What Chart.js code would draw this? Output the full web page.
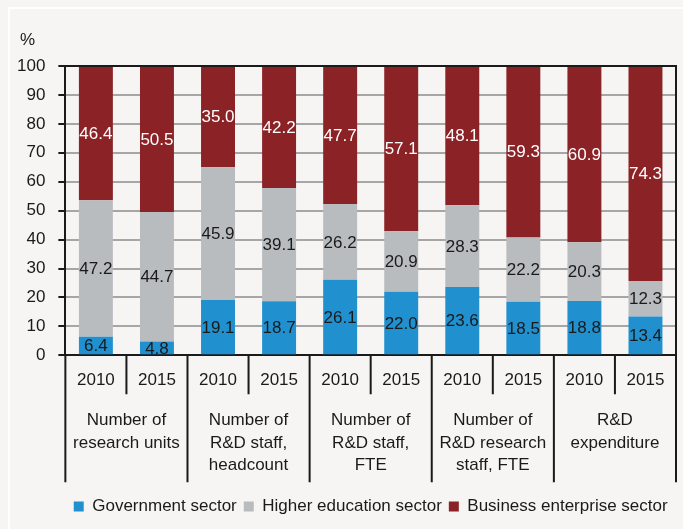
<!DOCTYPE html>
<html>
<head>
<meta charset="utf-8">
<script src="https://cdn.jsdelivr.net/npm/chart.js@4"></script>
<style>
  html, body { margin: 0; padding: 0; background: #f6f5f3; }
  #frame { position: absolute; left: 8px; top: 7px; width: 700px; height: 540px;
           border-top: 2px solid #ffffff; border-left: 2px solid #ffffff; }
  #wrap { position: absolute; left: 0; top: 0; width: 683px; height: 529px; }
</style>
</head>
<body>
<div id="frame"></div>
<div id="wrap"><canvas id="myChart" width="683" height="529"></canvas></div>
<script>
// data
const years = ['2010', '2015', '2010', '2015', '2010', '2015', '2010', '2015', '2010', '2015'];
const groups = [
	['Number of', 'research units'],
	['Number of', 'R&D staff,', 'headcount'],
	['Number of', 'R&D staff,', 'FTE'],
	['Number of', 'R&D research', 'staff, FTE'],
	['R&D', 'expenditure'],
];
const government = [6.4, 4.8, 19.1, 18.7, 26.1, 22.0, 23.6, 18.5, 18.8, 13.4];
const higherEducation = [47.2, 44.7, 45.9, 39.1, 26.2, 20.9, 28.3, 22.2, 20.3, 12.3];
const business = [46.4, 50.5, 35.0, 42.2, 47.7, 57.1, 48.1, 59.3, 60.9, 74.3];

const BLUE = '#2190cf';
const GREY = '#b9bcbf';
const RED = '#8b2226';
const INK = '#1a1a1a';

Chart.defaults.font.family = "'Liberation Sans', Arial, sans-serif";
Chart.defaults.font.size = 17;
Chart.defaults.color = INK;

/* labels inside the bar segments */
const valueLabels = {
	id: 'valueLabels',
	afterDatasetsDraw(chart) {
		const ctx = chart.ctx;
		ctx.save();
		ctx.font = "17px 'Liberation Sans', Arial, sans-serif";
		ctx.textAlign = 'center';
		ctx.textBaseline = 'middle';
		chart.data.datasets.forEach((ds, i) => {
			const meta = chart.getDatasetMeta(i);
			meta.data.forEach((bar, j) => {
				const p = bar.getCenterPoint();
				ctx.fillStyle = ds.labelColor;
				ctx.fillText(ds.data[j].toFixed(1), p.x, p.y + 1);
			});
		});
		ctx.restore();
	},
};

/* plot frame, category separators and the % sign */
const frameLines = {
	id: 'frameLines',
	afterDraw(chart) {
		const ctx = chart.ctx;
		const area = chart.chartArea;
		const x = chart.scales.x;
		const half = (x.getPixelForValue(1) - x.getPixelForValue(0)) / 2;
		ctx.save();
		ctx.strokeStyle = INK;
		ctx.lineWidth = 2;
		ctx.beginPath();
		ctx.moveTo(area.left, area.top);
		ctx.lineTo(area.right, area.top);
		ctx.lineTo(area.right, area.bottom);
		for (let i = 0; i <= years.length; i++) {
			const px = x.getPixelForValue(i) - half;
			const end = i % 2 === 0 ? area.bottom + 127 : area.bottom + 39;
			ctx.moveTo(px, area.bottom);
			ctx.lineTo(px, end);
		}
		ctx.stroke();
		ctx.fillStyle = INK;
		ctx.font = "17px 'Liberation Sans', Arial, sans-serif";
		ctx.textAlign = 'left';
		ctx.textBaseline = 'middle';
		ctx.fillText('%', chart.scales.y.left + 16, area.top - 26);
		ctx.restore();
	},
};

const config = {
	type: 'bar',
	data: {
		labels: years,
		datasets: [
			{ label: 'Government sector', data: government, backgroundColor: BLUE, labelColor: INK },
			{ label: 'Higher education sector', data: higherEducation, backgroundColor: GREY, labelColor: INK },
			{ label: 'Business enterprise sector', data: business, backgroundColor: RED, labelColor: '#ffffff' },
		],
	},
	options: {
		responsive: false,
		animation: false,
		layout: { padding: { left: 4, right: 7, top: 66, bottom: 4 } },
		datasets: {
			bar: { barPercentage: 0.556, categoryPercentage: 1, borderWidth: 0 },
		},
		plugins: {
			legend: {
				position: 'bottom',
				fullSize: false,
				labels: { boxWidth: 10, boxHeight: 10, padding: 7, color: INK },
			},
			tooltip: { enabled: false },
		},
		scales: {
			x: {
				stacked: true,
				weight: 0,
				grid: { display: false, drawTicks: false },
				border: { color: INK, width: 2 },
				ticks: { padding: 15 },
			},
			x2: {
				type: 'category',
				labels: groups,
				position: 'bottom',
				weight: 1,
				offset: true,
				grid: { display: false, drawTicks: false },
				border: { display: false },
				ticks: { padding: 4, font: { lineHeight: 1.3 } },
				afterFit: (scale) => {
					scale.height += 11;
				},
			},
			y: {
				stacked: true,
				min: 0,
				max: 100,
				ticks: { stepSize: 10, padding: 13, autoSkip: false },
				border: { color: INK, width: 2 },
				grid: {
					color: (c) => (c.tick && c.tick.value === 100 ? INK : '#a6a6a6'),
					tickColor: INK,
					tickLength: 7,
					lineWidth: 2,
				},
			},
		},
	},
	plugins: [valueLabels, frameLines],
};

const context = document.getElementById('myChart').getContext('2d');
const chart = new Chart(context, config);
</script>
</body>
</html>
